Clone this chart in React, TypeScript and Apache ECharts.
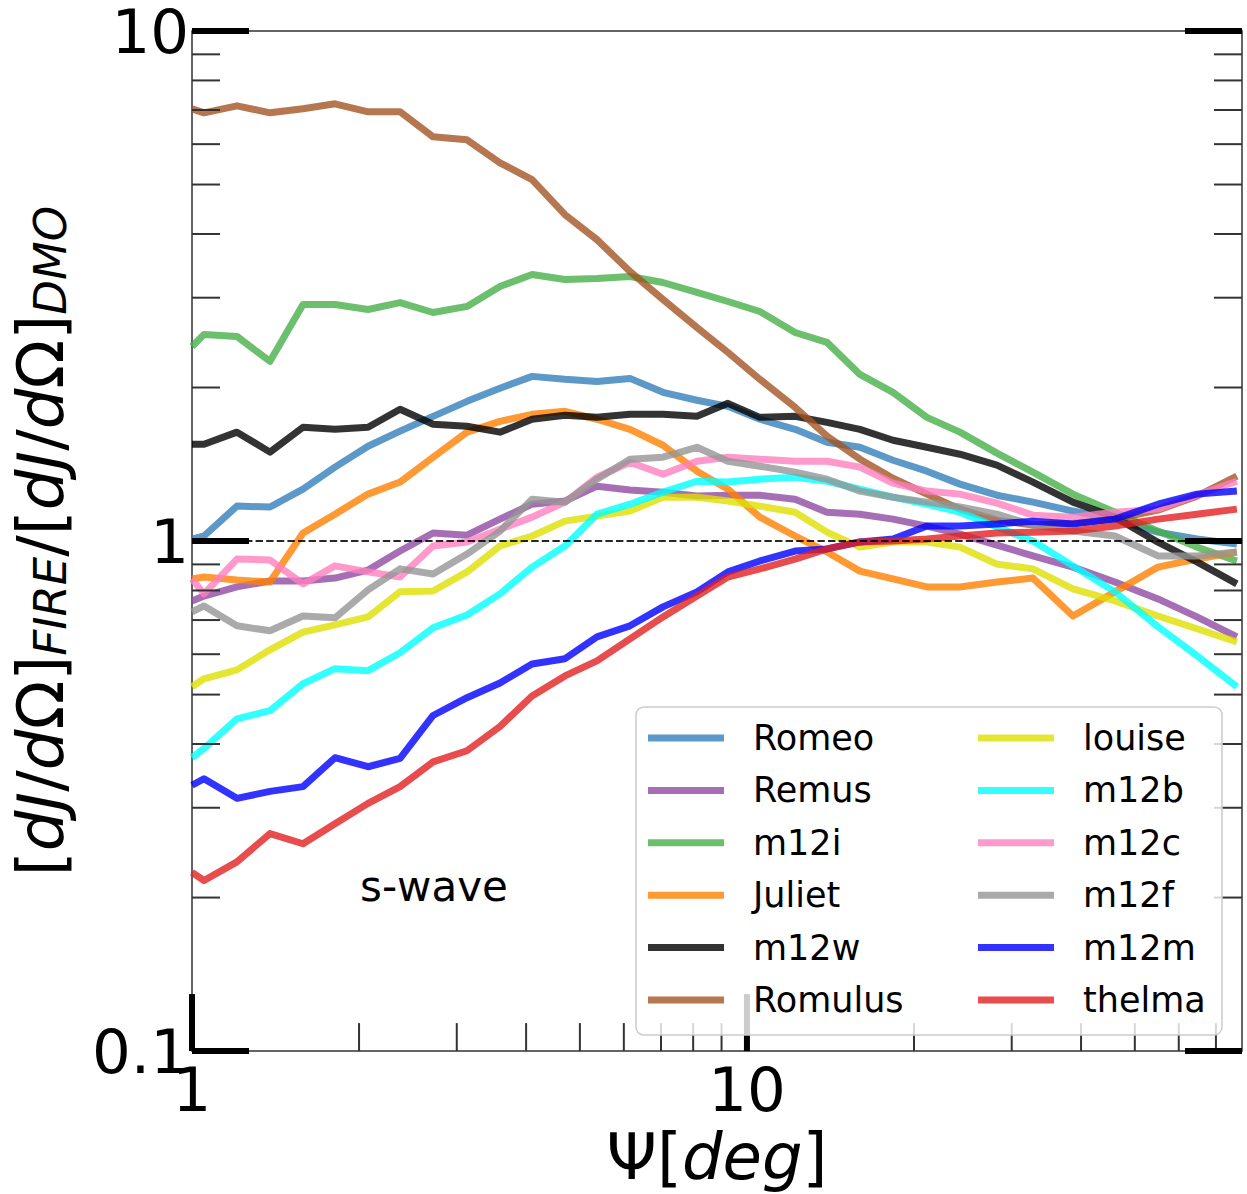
import React, { useEffect, useRef } from "react";
import * as echarts from "echarts";

// Opening angle Psi [deg] of the profile bins
const X_DEG = [1.0, 1.051, 1.205, 1.382, 1.585, 1.81, 2.076, 2.371, 2.719, 3.13, 3.589, 4.1, 4.7, 5.367, 6.155, 7.059, 8.126, 9.241, 10.55, 12.21, 13.94, 15.98, 18.33, 21.1, 24.2, 28.21, 32.76, 38.68, 46.04, 55.03, 64.69, 76.36];

const ROMEO = [1.009, 1.023, 1.171, 1.166, 1.264, 1.396, 1.534, 1.642, 1.756, 1.879, 1.993, 2.103, 2.075, 2.056, 2.084, 1.957, 1.888, 1.837, 1.733, 1.656, 1.562, 1.527, 1.44, 1.371, 1.293, 1.23, 1.192, 1.145, 1.104, 1.041, 1.009, 0.987];
const REMUS = [0.763, 0.78, 0.813, 0.835, 0.835, 0.846, 0.877, 0.956, 1.037, 1.027, 1.104, 1.181, 1.198, 1.281, 1.259, 1.247, 1.225, 1.23, 1.23, 1.208, 1.139, 1.129, 1.104, 1.07, 1.032, 0.982, 0.935, 0.889, 0.831, 0.77, 0.71, 0.649];
const M12I = [2.407, 2.542, 2.519, 2.251, 2.909, 2.909, 2.844, 2.935, 2.806, 2.884, 3.155, 3.331, 3.256, 3.271, 3.301, 3.213, 3.072, 2.949, 2.819, 2.564, 2.452, 2.122, 1.957, 1.748, 1.635, 1.487, 1.365, 1.236, 1.139, 1.046, 0.973, 0.914];
const JULIET = [0.843, 0.85, 0.839, 0.831, 1.037, 1.129, 1.236, 1.305, 1.46, 1.635, 1.717, 1.772, 1.796, 1.733, 1.656, 1.541, 1.371, 1.264, 1.114, 1.023, 0.952, 0.873, 0.843, 0.813, 0.813, 0.831, 0.846, 0.713, 0.795, 0.889, 0.922, 0.952];
const M12W = [1.548, 1.548, 1.635, 1.494, 1.672, 1.656, 1.672, 1.813, 1.694, 1.679, 1.635, 1.733, 1.764, 1.748, 1.772, 1.772, 1.756, 1.862, 1.748, 1.756, 1.709, 1.656, 1.576, 1.527, 1.48, 1.409, 1.305, 1.192, 1.114, 0.995, 0.91, 0.824];
const ROMULUS = [7.038, 6.912, 7.134, 6.912, 7.038, 7.198, 6.943, 6.943, 6.201, 6.118, 5.516, 5.11, 4.364, 3.899, 3.376, 2.976, 2.623, 2.344, 2.075, 1.829, 1.606, 1.447, 1.328, 1.236, 1.155, 1.099, 1.075, 1.084, 1.104, 1.15, 1.225, 1.34];
const LOUISE = [0.518, 0.537, 0.559, 0.612, 0.663, 0.685, 0.71, 0.795, 0.798, 0.87, 0.978, 1.023, 1.094, 1.119, 1.145, 1.219, 1.219, 1.198, 1.171, 1.139, 1.041, 0.973, 0.996, 0.996, 0.973, 0.901, 0.882, 0.806, 0.763, 0.713, 0.673, 0.634];
const M12B = [0.376, 0.392, 0.448, 0.465, 0.525, 0.562, 0.557, 0.604, 0.676, 0.716, 0.788, 0.889, 0.978, 1.129, 1.181, 1.247, 1.31, 1.305, 1.322, 1.334, 1.31, 1.264, 1.219, 1.181, 1.139, 1.065, 1.0, 0.894, 0.795, 0.679, 0.596, 0.518];
const M12C = [0.843, 0.788, 0.922, 0.918, 0.824, 0.894, 0.87, 0.85, 0.978, 0.996, 1.055, 1.114, 1.192, 1.334, 1.427, 1.352, 1.434, 1.46, 1.447, 1.434, 1.434, 1.396, 1.299, 1.253, 1.236, 1.187, 1.124, 1.114, 1.139, 1.155, 1.23, 1.31];
const M12F = [0.726, 0.746, 0.682, 0.667, 0.713, 0.707, 0.802, 0.882, 0.862, 0.943, 1.046, 1.208, 1.192, 1.322, 1.447, 1.46, 1.527, 1.434, 1.402, 1.365, 1.322, 1.253, 1.219, 1.192, 1.166, 1.129, 1.075, 1.046, 1.023, 0.935, 0.935, 0.952];
const M12M = [0.332, 0.342, 0.313, 0.323, 0.33, 0.376, 0.361, 0.375, 0.455, 0.493, 0.527, 0.574, 0.588, 0.649, 0.682, 0.743, 0.795, 0.87, 0.914, 0.956, 0.965, 0.996, 1.009, 1.07, 1.07, 1.08, 1.094, 1.08, 1.104, 1.181, 1.236, 1.253];
const THELMA = [0.224, 0.216, 0.235, 0.267, 0.255, 0.279, 0.306, 0.33, 0.369, 0.388, 0.433, 0.497, 0.544, 0.582, 0.643, 0.71, 0.78, 0.85, 0.882, 0.922, 0.965, 0.996, 1.0, 1.009, 1.023, 1.037, 1.041, 1.046, 1.07, 1.104, 1.129, 1.155];

const NAMES = ["Romeo", "Remus", "m12i", "Juliet", "m12w", "Romulus", "louise", "m12b", "m12c", "m12f", "m12m", "thelma"];
const VALUES = [ROMEO, REMUS, M12I, JULIET, M12W, ROMULUS, LOUISE, M12B, M12C, M12F, M12M, THELMA];
const COLORS = ["#337eba", "#904ba2", "#47af47", "#ff7f00", "#000000", "#a25424", "#dede00", "#00ffff", "#ff7fbf", "#959595", "#0000ff", "#e21f1f"];
const LEGEND_COL1 = ["Romeo", "Remus", "m12i", "Juliet", "m12w", "Romulus"];
const LEGEND_COL2 = ["louise", "m12b", "m12c", "m12f", "m12m", "thelma"];

// axis limits and tick positions
const X_MIN = 1;
const X_MAX = 78;
const Y_MIN = 0.1;
const Y_MAX = 10;
const X_MAJOR = [1, 10];
const X_MINOR = [2, 3, 4, 5, 6, 7, 8, 9, 20, 30, 40, 50, 60, 70];
const Y_MAJOR = [0.1, 1, 10];
const Y_MINOR = [0.2, 0.3, 0.4, 0.5, 0.6, 0.7, 0.8, 0.9, 2, 3, 4, 5, 6, 7, 8, 9];
const REF_LEVEL = 1;

const FONT = "DejaVu Sans";

function isPow10(v: number) {
  const l = Math.log10(v);
  return Math.abs(l - Math.round(l)) < 1e-6;
}
function fmtTick(v: number) {
  if (!isPow10(v)) return "";
  return v >= 1 ? String(Math.round(v)) : v.toFixed(1);
}

export default function App() {
  const ref = useRef<HTMLDivElement | null>(null);

  useEffect(() => {
    if (!ref.current) return;
    const chart = echarts.init(ref.current, null, { renderer: "svg" });

    // tick marks: [x, y, kind(0 bottom,1 left,2 right), major]
    const ticks: number[][] = [];
    X_MAJOR.forEach((v) => ticks.push([v, Y_MIN, 0, 1]));
    X_MINOR.forEach((v) => ticks.push([v, Y_MIN, 0, 0]));
    Y_MAJOR.forEach((v) => {
      ticks.push([X_MIN, v, 1, 1]);
      ticks.push([X_MAX, v, 2, 1]);
    });
    Y_MINOR.forEach((v) => {
      ticks.push([X_MIN, v, 1, 0]);
      ticks.push([X_MAX, v, 2, 0]);
    });

    const lineSeries = NAMES.map((name, i) => ({
      name,
      type: "line",
      data: X_DEG.map((x, j) => [x, VALUES[i][j]]),
      showSymbol: false,
      symbol: "none",
      clip: true,
      z: 2,
      lineStyle: { color: COLORS[i], width: 7, opacity: 0.8, join: "round", cap: "butt" },
      itemStyle: { color: COLORS[i], opacity: 0.8 },
      silent: true,
    }));

    const legendBase = {
      orient: "vertical",
      top: 718,
      itemWidth: 76,
      itemHeight: 7,
      itemGap: 12.4,
      icon: "rect",
      padding: 0,
      z: 20,
      selectedMode: false,
      textStyle: { fontSize: 35, lineHeight: 40, color: "#000", fontFamily: FONT, padding: [0, 0, 0, 24] },
    };

    const richName = {
      m: { fontSize: 64, lineHeight: 64, color: "#000", fontFamily: FONT },
      i: { fontSize: 64, lineHeight: 64, color: "#000", fontFamily: FONT, fontStyle: "italic" },
      s: { fontSize: 45, lineHeight: 32, color: "#000", fontFamily: FONT, fontStyle: "italic", verticalAlign: "bottom" },
    };

    chart.setOption({
      animation: false,
      textStyle: { fontFamily: FONT },
      grid: {
        left: 192,
        right: 5,
        top: 31,
        bottom: 141,
        show: true,
        borderColor: "#333",
        borderWidth: 1.5,
        backgroundColor: "transparent",
        containLabel: false,
      },
      xAxis: {
        type: "log",
        logBase: 10,
        min: X_MIN,
        max: X_MAX,
        axisLine: { show: false },
        axisTick: { show: false },
        splitLine: { show: false },
        minorTick: { show: false },
        axisLabel: { fontSize: 61, color: "#000", margin: 8, fontFamily: FONT, formatter: fmtTick },
        name: "{m|Ψ[}{i|deg}{m|]}",
        nameLocation: "middle",
        nameGap: 71,
        nameTextStyle: { fontSize: 64, color: "#000", rich: richName },
      },
      yAxis: {
        type: "log",
        logBase: 10,
        min: Y_MIN,
        max: Y_MAX,
        axisLine: { show: false },
        axisTick: { show: false },
        splitLine: { show: false },
        minorTick: { show: false },
        axisLabel: { fontSize: 61, lineHeight: 50, color: "#000", margin: 3, fontFamily: FONT, formatter: fmtTick },
        name: "{m|[}{i|dJ}{m|/}{i|d}{m|Ω]}{s|FIRE}{m|/[}{i|dJ}{m|/}{i|d}{m|Ω]}{s|DMO}",
        nameLocation: "middle",
        nameRotate: 90,
        nameGap: 119,
        nameTextStyle: { fontSize: 64, color: "#000", rich: richName },
      },
      legend: [
        { ...legendBase, left: 648, data: LEGEND_COL1 },
        { ...legendBase, left: 978, data: LEGEND_COL2 },
      ],
      graphic: {
        elements: [
          {
            type: "rect",
            z: 10,
            silent: true,
            shape: { x: 636, y: 707, width: 586, height: 328, r: 8 },
            style: { fill: "rgba(255,255,255,0.8)", stroke: "#cccccc", lineWidth: 1.5 },
          },
          {
            type: "text",
            z: 10,
            silent: true,
            x: 360,
            y: 886,
            style: { text: "s-wave", fontSize: 42, fontFamily: FONT, fill: "#000", verticalAlign: "middle", align: "left" },
          },
        ],
      },
      series: [
        ...lineSeries,
        {
          name: "ref",
          type: "line",
          data: [[X_MIN, REF_LEVEL]],
          showSymbol: false,
          symbol: "none",
          lineStyle: { width: 0 },
          z: 3,
          silent: true,
          markLine: {
            silent: true,
            symbol: ["none", "none"],
            label: { show: false },
            lineStyle: { type: [7.4, 3.2], color: "#000", width: 2, opacity: 0.85 },
            data: [{ yAxis: REF_LEVEL }],
          },
        },
        {
          name: "ticks",
          type: "custom",
          z: 4,
          silent: true,
          clip: false,
          data: ticks,
          renderItem: (params: any, api: any) => {
            const x = api.value(0);
            const y = api.value(1);
            const kind = api.value(2);
            const major = api.value(3) === 1;
            const p = api.coord([x, y]);
            const len = major ? 57 : 28;
            let shape;
            if (kind === 0) shape = { x1: p[0], y1: p[1], x2: p[0], y2: p[1] - len };
            else if (kind === 1) shape = { x1: p[0], y1: p[1], x2: p[0] + len, y2: p[1] };
            else shape = { x1: p[0], y1: p[1], x2: p[0] - len, y2: p[1] };
            return {
              type: "line",
              shape,
              style: { stroke: major ? "#000" : "#333", lineWidth: major ? 6 : 2 },
            };
          },
        },
      ],
    });

    return () => {
      chart.dispose();
    };
  }, []);

  return <div ref={ref} style={{ position: "absolute", left: 0, top: 0, width: 1247, height: 1194 }} />;
}
